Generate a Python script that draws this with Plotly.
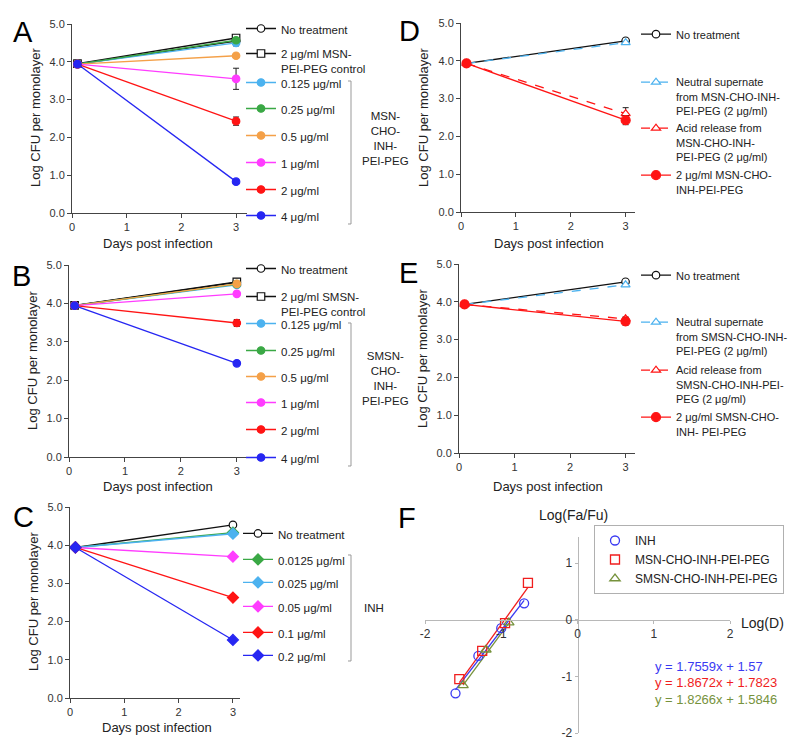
import plotly.graph_objects as go

FONT = "Liberation Sans, Arial, sans-serif"
W, H = 800, 745

# sampling days (day 0 is plotted just right of the axis, as in the original)
days = [0.1, 3]

# A: MSN-CHO-INH-PEI-PEG dose series (Log CFU per monolayer)
a_names = ["No treatment", "2 μg/ml MSN-<br>PEI-PEG control", "0.125 μg/ml", "0.25 μg/ml",
           "0.5 μg/ml", "1 μg/ml", "2 μg/ml", "4 μg/ml"]
a_day0 = [3.94, 3.95, 3.94, 3.94, 3.94, 3.94, 3.94, 3.94]
a_day3 = [4.55, 4.63, 4.50, 4.57, 4.16, 3.55, 2.43, 0.83]
a_err = [0.03, 0.04, 0.08, 0.05, 0.03, 0.28, 0.11, 0.03]

# B: SMSN-CHO-INH-PEI-PEG dose series
b_names = ["No treatment", "2 μg/ml SMSN-<br>PEI-PEG control", "0.125 μg/ml", "0.25 μg/ml",
           "0.5 μg/ml", "1 μg/ml", "2 μg/ml", "4 μg/ml"]
b_day0 = [3.94, 3.95, 3.94, 3.94, 3.94, 3.94, 3.94, 3.94]
b_day3 = [4.55, 4.56, 4.48, 4.50, 4.51, 4.25, 3.49, 2.44]
b_err = [0.03, 0.03, 0.04, 0.03, 0.03, 0.04, 0.09, 0.04]

# C: free INH
c_names = ["No treatment", "0.0125 μg/ml", "0.025 μg/ml", "0.05 μg/ml", "0.1 μg/ml", "0.2 μg/ml"]
c_day0 = [3.94, 3.94, 3.94, 3.94, 3.94, 3.94]
c_day3 = [4.53, 4.33, 4.30, 3.70, 2.63, 1.52]
c_err = [0.03, 0.03, 0.03, 0.03, 0.05, 0.05]

# D: MSN release experiments
d_names = ["No treatment", "Neutral supernate<br>from MSN-CHO-INH-<br>PEI-PEG (2 μg/ml)",
           "Acid release from<br>MSN-CHO-INH-<br>PEI-PEG (2 μg/ml)", "2 μg/ml MSN-CHO-<br>INH-PEI-PEG"]
d_day0 = [3.93, 3.93, 3.93, 3.93]
d_day3 = [4.53, 4.48, 2.60, 2.43]
d_err = [0.03, 0.03, 0.16, 0.12]

# E: SMSN release experiments
e_names = ["No treatment", "Neutral supernate<br>from SMSN-CHO-INH-<br>PEI-PEG (2 μg/ml)",
           "Acid release from<br>SMSN-CHO-INH-PEI-<br>PEG (2 μg/ml)", "2 μg/ml SMSN-CHO-<br>INH- PEI-PEG"]
e_day0 = [3.93, 3.93, 3.93, 3.93]
e_day3 = [4.53, 4.45, 3.55, 3.48]
e_err = [0.03, 0.03, 0.05, 0.10]

# F: median-effect plot, Log(D) vs Log(Fa/Fu)
f_names = ["INH", "MSN-CHO-INH-PEI-PEG", "SMSN-CHO-INH-PEI-PEG"]
f_logd = [[-1.60, -1.30, -1.00, -0.70],
          [-1.55, -1.25, -0.95, -0.65],
          [-1.50, -1.20, -0.90]]
f_logfa = [[-1.30, -0.64, -0.15, 0.29],
           [-1.05, -0.55, -0.06, 0.65],
           [-1.16, -0.53, -0.05]]
f_slope = [1.7559, 1.8672, 1.8266]
f_icpt = [1.57, 1.7823, 1.5846]
f_xticks = [-2, -1, 0, 1, 2]
f_xticklabels = ["-2", "-1", "0", "1", "2"]
f_yticks = [-2, -1, 0, 1]
f_yticklabels = ["-2", "-1", "0", "1"]

BLACK = "#111111"
SKY = "#4cb2ef"
GREEN = "#3aa845"
ORANGE = "#f4a048"
MAGENTA = "#ff3cff"
RED = "#ff1414"
BLUE = "#2626f2"
F_COLORS = ["#3a3af2", "#f01e1e", "#76923c"]
F_SYMBOLS = ["circle-open", "square-open", "triangle-up-open"]

# (color, symbol, dash, hollow)
ab_styles = [(BLACK, "circle", "solid", True), (BLACK, "square", "solid", True),
             (SKY, "circle", "solid", False), (GREEN, "circle", "solid", False),
             (ORANGE, "circle", "solid", False), (MAGENTA, "circle", "solid", False),
             (RED, "circle", "solid", False), (BLUE, "circle", "solid", False)]
c_styles = [(BLACK, "circle", "solid", True), (GREEN, "diamond", "solid", False),
            (SKY, "diamond", "solid", False), (MAGENTA, "diamond", "solid", False),
            (RED, "diamond", "solid", False), (BLUE, "diamond", "solid", False)]
de_styles = [(BLACK, "circle", "solid", True), (SKY, "triangle-up", "dash", True),
             (RED, "triangle-up", "dash", True), (RED, "circle", "solid", False)]

fig = go.Figure()

AX = dict(showline=True, linecolor="#444", linewidth=1, ticks="outside", ticklen=4,
          tickcolor="#444", showgrid=False, zeroline=False, fixedrange=True, automargin=False,
          tickfont=dict(size=11, color="#333", family=FONT))


def frame(n, xdom, ydom, xmax):
    sx = "" if n == 1 else str(n)
    fig.update_layout({
        "xaxis" + sx: dict(domain=[xdom[0] / W, xdom[1] / W], range=[0, xmax], anchor="y" + sx,
                           tickvals=[0, 1, 2, 3], **AX),
        "yaxis" + sx: dict(domain=[1 - ydom[1] / H, 1 - ydom[0] / H], range=[0, 5], anchor="x" + sx,
                           tickvals=[0, 1, 2, 3, 4, 5], tickformat=".1f", **AX),
    })


leg_count = [2]


def series(n, names, y0, y3, err, styles, rows, leg_x, fsize, sizes):
    sx = "" if n == 1 else str(n)
    for i, name in enumerate(names):
        color, symbol, dash, hollow = styles[i]
        key = "legend%d" % leg_count[0]
        leg_count[0] += 1
        fig.add_trace(go.Scatter(
            x=days, y=[y0[i], y3[i]], name=name, mode="lines+markers",
            xaxis="x" + sx, yaxis="y" + sx, legend=key,
            line=dict(color=color, width=1.3, dash=dash),
            marker=dict(symbol=symbol, size=sizes[i],
                        color="white" if hollow else color, line=dict(color=color, width=1.2)),
            error_y=dict(type="data", array=[0, err[i]], color="#222", thickness=1, width=3),
        ))
        fig.update_layout({key: dict(x=leg_x / W, xanchor="left", y=1 - (rows[i] - 14.5) / H,
                                     yanchor="top", bgcolor="rgba(0,0,0,0)", borderwidth=0,
                                     valign="top", font=dict(size=fsize, color="#222", family=FONT))})


frame(1, (72, 247), (24, 213), 3.2)
frame(2, (69, 248), (265, 457), 3.2)
frame(3, (70, 240), (507, 698), 3.13)
frame(4, (461, 635), (23, 212), 3.17)
frame(5, (459, 635), (264, 453), 3.17)

series(1, a_names, a_day0, a_day3, a_err, ab_styles, [29, 54, 83, 109, 136, 163, 190, 216], 241, 11.5,
       [7.5] * 8)
series(2, b_names, b_day0, b_day3, b_err, ab_styles, [269, 297, 324, 351, 377, 403, 430, 458], 241, 11.5,
       [7.5] * 8)
series(3, c_names, c_day0, c_day3, c_err, c_styles, [534, 560, 583, 607, 633, 656], 238, 11.5,
       [7.5, 8.5, 8.5, 8.5, 8.5, 8.5])
series(4, d_names, d_day0, d_day3, d_err, de_styles, [35, 83, 129, 176], 636, 11, [7.5, 8, 8, 9])
series(5, e_names, e_day0, e_day3, e_err, de_styles, [276, 323, 371, 418], 636, 11, [7.5, 8, 8, 9])

# panel F: axes crossing at the origin
fx_dom, fy_dom = (425, 730), (537, 733)
f_xr, f_yr = [-2, 2], [-2, 1.46]
xd = [fx_dom[0] / W, fx_dom[1] / W]
yd = [1 - fy_dom[1] / H, 1 - fy_dom[0] / H]
FAX = dict(showline=True, linecolor="#b8b8b8", linewidth=1, ticks="outside", ticklen=3,
           tickcolor="#b8b8b8", showgrid=False, zeroline=False, fixedrange=True, automargin=False,
           tickfont=dict(size=12, color="#333", family=FONT))
fig.update_layout(
    xaxis6=dict(domain=xd, range=f_xr, anchor="free",
                position=yd[0] + (0 - f_yr[0]) / (f_yr[1] - f_yr[0]) * (yd[1] - yd[0]),
                tickvals=f_xticks, ticktext=f_xticklabels, **FAX),
    yaxis6=dict(domain=yd, range=f_yr, anchor="free",
                position=xd[0] + (0 - f_xr[0]) / (f_xr[1] - f_xr[0]) * (xd[1] - xd[0]),
                tickvals=f_yticks, ticktext=f_yticklabels, **FAX),
)
for i, name in enumerate(f_names):
    xs = [min(f_logd[i]), max(f_logd[i])]
    fig.add_trace(go.Scatter(x=xs, y=[f_slope[i] * v + f_icpt[i] for v in xs], mode="lines",
                             line=dict(color=F_COLORS[i], width=1.3), showlegend=False,
                             xaxis="x6", yaxis="y6"))
for i, name in enumerate(f_names):
    fig.add_trace(go.Scatter(x=f_logd[i], y=f_logfa[i], mode="markers", name=name,
                             marker=dict(symbol=F_SYMBOLS[i], size=9, color=F_COLORS[i],
                                         line=dict(width=1.3)),
                             xaxis="x6", yaxis="y6", legend="legend"))

ann = []


def label(x, y, s, size, color="#222", angle=0, xanchor="center"):
    ann.append(dict(x=x / W, y=1 - y / H, xref="paper", yref="paper", text=s, showarrow=False,
                    textangle=angle, xanchor=xanchor, yanchor="middle", align="center",
                    font=dict(size=size, color=color, family=FONT)))


for s, x, y in [("A", 23, 32), ("B", 21, 276), ("C", 23, 517), ("D", 409, 31), ("E", 408, 273), ("F", 407, 518)]:
    label(x, y, s, 29, "#000")
for x, y in [(35, 118), (33, 361), (33, 602), (423, 118), (422, 359)]:
    label(x, y, "Log CFU per monolayer", 13, angle=-90)
for x, y in [(158, 243), (158, 486), (157, 727), (549, 243), (548, 486)]:
    label(x, y, "Days post infection", 13)
label(385, 138, "MSN-<br>CHO-<br>INH-<br>PEI-PEG", 11.5)
label(385, 378, "SMSN-<br>CHO-<br>INH-<br>PEI-PEG", 11.5)
label(374, 608, "INH", 11.5)
label(573, 515, "Log(Fa/Fu)", 14)
label(762, 623, "Log(D)", 14)
for i in range(len(f_names)):
    label(653, 666 + 16.5 * i, "y = %sx + %s" % (f_slope[i], f_icpt[i]), 13, F_COLORS[i], xanchor="left")

shapes = []
for x, top, bot in [(351, 81, 224), (351, 323, 466), (351, 555, 661)]:
    shapes.append(dict(type="path", xref="paper", yref="paper",
                       path="M %f,%f L %f,%f L %f,%f L %f,%f" % (
                           (x - 3) / W, 1 - top / H, x / W, 1 - top / H,
                           x / W, 1 - bot / H, (x - 3) / W, 1 - bot / H),
                       line=dict(color="#999", width=1)))

fig.update_layout(
    width=W, height=H, margin=dict(l=0, r=0, t=0, b=0, autoexpand=False),
    paper_bgcolor="white", plot_bgcolor="white",
    font=dict(family=FONT, color="#222"),
    annotations=ann, shapes=shapes,
    legend=dict(x=784 / W, xanchor="right", y=1 - 525 / H, yanchor="top",
                bordercolor="#b0b0b0", borderwidth=1, bgcolor="white",
                font=dict(size=12, color="#222", family=FONT)),
)

# the page's default 8px body margin would push the figure off its 800x745 window
fig.write_html("out.html", config={"displayModeBar": False},
               post_script="document.body.style.margin='0';")
